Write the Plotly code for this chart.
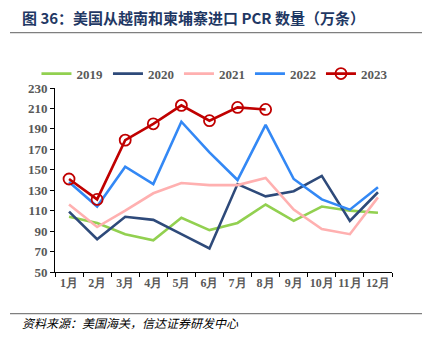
import plotly.graph_objects as go

months = ["1月", "2月", "3月", "4月", "5月", "6月", "7月", "8月", "9月", "10月", "11月", "12月"]
y2019 = [104, 98, 87, 81, 103, 91, 98, 116, 100, 114, 110, 108]
y2020 = [109, 82, 104, 101, 87, 73, 136, 124, 129, 144, 100, 128]
y2021 = [116, 94, 110, 127, 137, 135, 135, 142, 111, 92, 87, 123]
y2022 = [138, 114, 153, 136, 197, 167, 140, 194, 141, 121, 111, 133]
y2023 = [141, 121, 179, 195, 213, 198, 211, 209]
yticks = [50, 70, 90, 110, 130, 150, 170, 190, 210, 230]

series = [
    ("2019", y2019, "#92D050"),
    ("2020", y2020, "#2E4A7A"),
    ("2021", y2021, "#FFB0B0"),
    ("2022", y2022, "#3388F5"),
]

fig = go.Figure()
for name, ys, col in series:
    fig.add_trace(go.Scatter(x=months[:len(ys)], y=ys, name=name, mode="lines",
                             line=dict(color=col, width=2.6)))
fig.add_trace(go.Scatter(x=months[:len(y2023)], y=y2023, name="2023", mode="lines+markers",
                         line=dict(color="#C00000", width=2.6),
                         marker=dict(symbol="circle-open", size=11, color="#C00000",
                                     line=dict(width=1.8, color="#C00000"))))

serif = "Times New Roman, Liberation Serif, serif"
tickfont = dict(family=serif, size=13, color="#595959", weight="bold")
xtickfont = dict(family=serif, size=12, color="#595959", weight="bold")

fig.update_layout(
    width=431, height=343,
    margin=dict(l=55, r=39, t=88, b=71),
    paper_bgcolor="white", plot_bgcolor="white",
    showlegend=True,
    legend=dict(orientation="h", x=-0.055, xanchor="left", y=1.078, yanchor="middle",
                font=tickfont, itemwidth=30, tracegroupgap=0, bgcolor="rgba(0,0,0,0)"),
    xaxis=dict(type="category", categoryorder="array", categoryarray=months,
               showline=True, linecolor="black", linewidth=1,
               ticks="outside", tickson="boundaries", ticklen=4, tickcolor="black",
               showgrid=False, tickfont=xtickfont, tickangle=0, range=[-0.5, 11.5]),
    yaxis=dict(range=[50, 230], tickvals=yticks, showline=True, linecolor="black", linewidth=1,
               ticks="outside", ticklen=4, tickcolor="black", showgrid=False, zeroline=False,
               tickfont=tickfont),
    shapes=[
        dict(type="line", xref="paper", yref="paper", x0=-0.1335, x1=1.089, y0=1.3005, y1=1.3005,
             line=dict(color="#7F7F7F", width=1.2)),
        dict(type="line", xref="paper", yref="paper", x0=-0.1335, x1=1.089, y0=-0.2266, y1=-0.2266,
             line=dict(color="#7F7F7F", width=1.2)),
    ],
    annotations=[
        dict(text="<b>图 36：美国从越南和柬埔寨进口 PCR 数量（万条）</b>", xref="paper", yref="paper",
             x=-0.104, y=1.382, xanchor="left", yanchor="middle", showarrow=False,
             font=dict(family="Noto Sans CJK SC", size=15, color="#1F3864")),
        dict(text="资料来源：美国海关，信达证券研发中心", xref="paper", yref="paper",
             x=-0.104, y=-0.2755, xanchor="left", yanchor="middle", showarrow=False,
             font=dict(family="Noto Sans CJK SC", size=12, color="#000000", style="italic")),
    ],
)

fig.write_html("out.html")
